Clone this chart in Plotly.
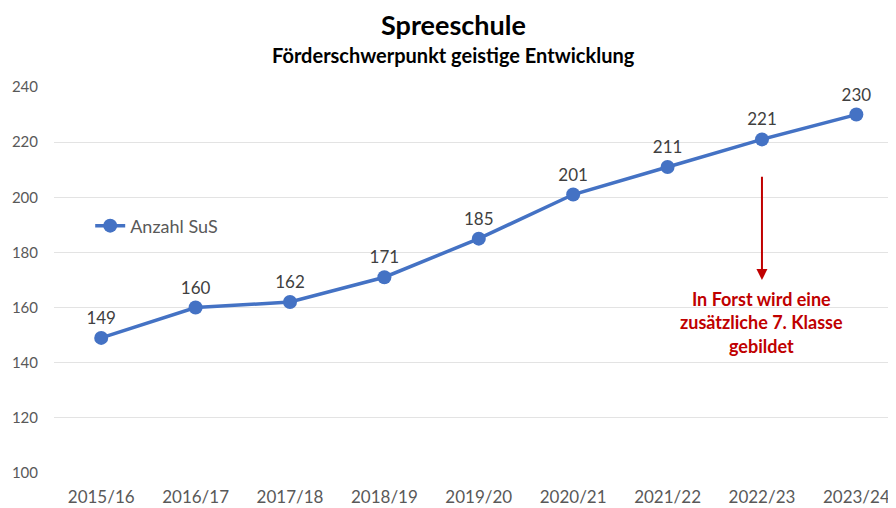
import plotly.graph_objects as go

years = ["2015/16", "2016/17", "2017/18", "2018/19", "2019/20", "2020/21", "2021/22", "2022/23", "2023/24"]
students = [149, 160, 162, 171, 185, 201, 211, 221, 230]
series_name = "Anzahl SuS"
y_ticks = [100, 120, 140, 160, 180, 200, 220, 240]

FONT = "Lato, sans-serif"
BLUE = "#4472C4"
RED = "#C00000"
GRAY = "#595959"

W, H = 888, 500  # page body has an 8px margin

fig = go.Figure()
fig.add_trace(go.Scatter(
    x=years, y=students, name=series_name,
    mode="lines+markers+text",
    line=dict(color=BLUE, width=3.5),
    marker=dict(color=BLUE, size=14),
    text=[str(v) for v in students],
    textposition="top center",
    textfont=dict(family=FONT, size=17, color="#404040"),
))

fig.add_annotation(
    x=years[7], y=170, ax=years[7], ay=208, xref="x", yref="y", axref="x", ayref="y",
    text="", showarrow=True, arrowhead=2, arrowsize=1.1, arrowwidth=2, arrowcolor=RED,
)
fig.add_annotation(
    x=years[7], y=168, xref="x", yref="y", yanchor="top",
    text="In Forst wird eine<br>zusätzliche 7. Klasse<br>gebildet",
    showarrow=False, align="center",
    font=dict(family=FONT, size=18, color=RED, weight="bold"),
)
fig.add_annotation(
    x=0.475, y=1.161, xref="paper", yref="paper", xanchor="center", yanchor="middle",
    text="<b>Spreeschule</b>", showarrow=False,
    font=dict(family=FONT, size=27, color="black"),
)
fig.add_annotation(
    x=0.475, y=1.083, xref="paper", yref="paper", xanchor="center", yanchor="middle",
    text="<b>Förderschwerpunkt geistige Entwicklung</b>", showarrow=False,
    font=dict(family=FONT, size=20, color="black"),
)

fig.update_layout(
    width=W, height=H,
    margin=dict(l=46, r=0, t=79, b=35),
    paper_bgcolor="white", plot_bgcolor="white",
    showlegend=True,
    legend=dict(x=0.043, y=0.64, xanchor="left", yanchor="middle",
                font=dict(family=FONT, size=18, color=GRAY),
                bgcolor="rgba(0,0,0,0)", itemwidth=30),
    xaxis=dict(
        type="category", range=[-0.5, 8.42],
        showgrid=False, zeroline=False, showline=False,
        tickfont=dict(family=FONT, size=17, color=GRAY),
        ticks="", ticklabelstandoff=12, automargin=False,
    ),
    yaxis=dict(
        range=[100, 240], tickvals=y_ticks,
        showgrid=True, gridcolor="#E3E3E3", gridwidth=1, zeroline=False,
        tickfont=dict(family=FONT, size=15, color=GRAY),
        ticks="", ticklabelstandoff=15, automargin=False,
    ),
)

fig.write_html("out.html")
